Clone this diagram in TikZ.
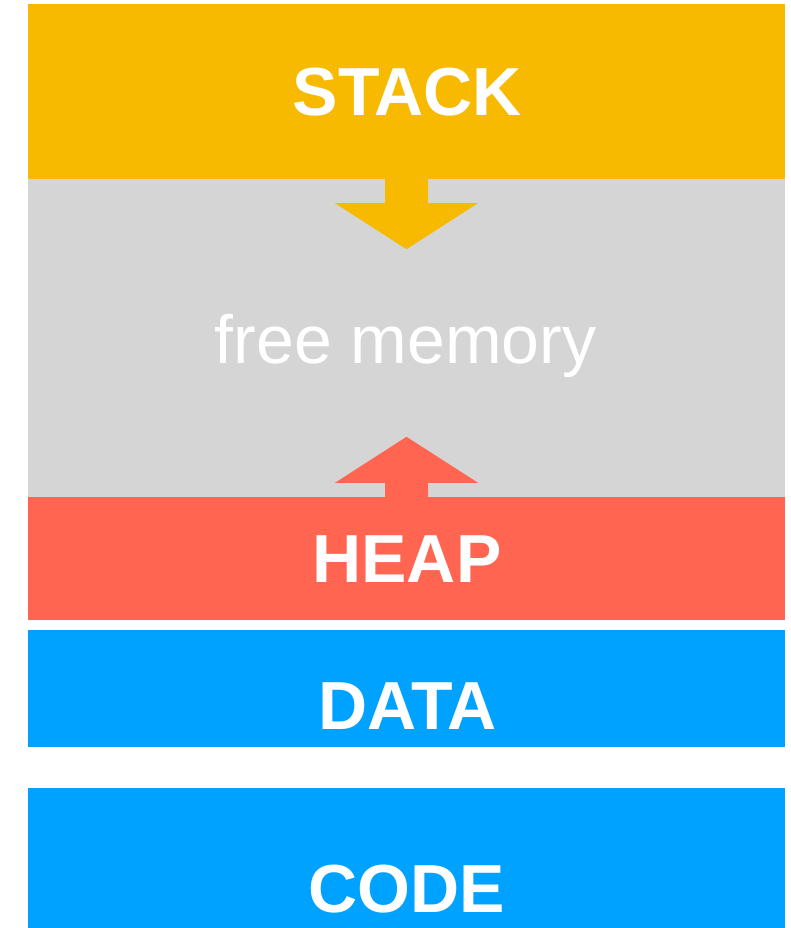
\documentclass[tikz,border=0pt]{standalone}
\usepackage{fontspec}
\setmainfont{Liberation Sans}
\definecolor{stackcol}{HTML}{F7BA00}
\definecolor{freecol}{HTML}{D5D5D5}
\definecolor{heapcol}{HTML}{FF6550}
\definecolor{segcol}{HTML}{00A2FF}
\tikzset{
  band/.style={rectangle, inner sep=0pt, minimum width=757pt},
  bandtext/.style={anchor=base, text=white, inner sep=0pt, font=\fontsize{68}{70}\selectfont\bfseries},
  freetext/.style={anchor=base, text=white, inner sep=0pt, font=\fontsize{68}{70}\selectfont}
}
\begin{document}
\begin{tikzpicture}[x=1pt, y=1pt]
            \useasboundingbox (0,0) rectangle (790,928);
            % memory bands
            \node[band, fill=stackcol, minimum height=175pt] (stack) at (406.5,836.5) {};
            \node[band, fill=freecol, minimum height=318pt] (free) at (406.5,590) {};
            \node[band, fill=heapcol, minimum height=123pt] (heap) at (406.5,369.5) {};
            \node[band, fill=segcol, minimum height=117pt] (data) at (406.5,239.5) {};
            \node[band, fill=segcol, minimum height=140pt] (code) at (406.5,70) {};
            % growth arrows
            \fill[stackcol] (stack.south) ++(-21.5,0) -- ++(0,-24) -- ++(-50,0)
                -- ++(71.5,-46) -- ++(71.5,46) -- ++(-50,0) -- ++(0,24) -- cycle;
            \fill[heapcol] (heap.north) ++(-21.5,0) -- ++(0,14) -- ++(-50,0)
                -- ++(71.5,46) -- ++(71.5,-46) -- ++(-50,0) -- ++(0,-14) -- cycle;
            % labels
            \node[bandtext] (stacklabel) at (407.5,812) {STACK};
            \node[freetext] (freelabel) at (405.5,564) {free memory};
            \node[bandtext] (heaplabel) at (407,345) {HEAP};
            \node[bandtext] (datalabel) at (407.5,198) {DATA};
            \node[bandtext] (codelabel) at (407,16) {CODE};
        \end{tikzpicture}
\end{document}
